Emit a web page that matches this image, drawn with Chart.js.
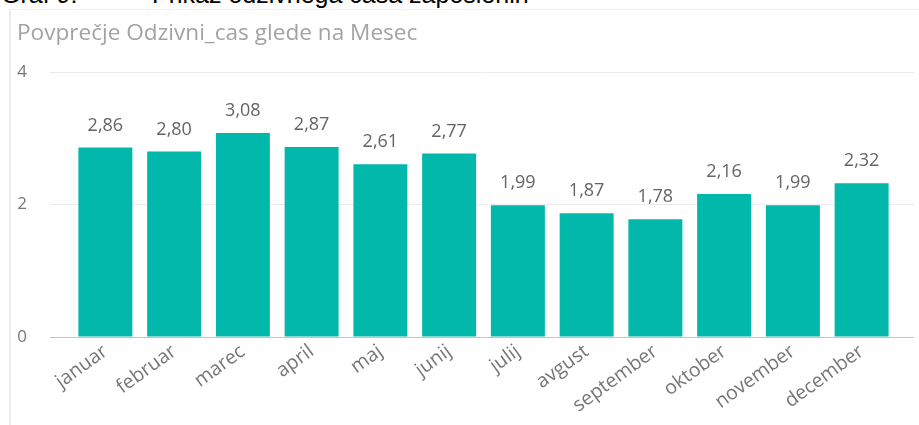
<!DOCTYPE html>
<html>
<head>
<meta charset="utf-8">
<script src="https://cdn.jsdelivr.net/npm/chart.js@4.4.0/dist/chart.umd.min.js"></script>
<style>
  html, body { margin: 0; padding: 0; background: #fff; }
  body { width: 919px; height: 425px; position: relative; overflow: hidden; }
  .caption { position: absolute; top: -18px; font: 25px "Liberation Sans", Arial, sans-serif; color: #000; line-height: 1; white-space: nowrap; }
  .frame { position: absolute; left: 9px; top: 9px; width: 908px; height: 430px;
           border-left: 2px solid #ececec; border-top: 1px solid #f2f2f2; }
  #wrap { position: absolute; left: 11px; top: 11px; width: 908px; height: 414px; }
</style>
</head>
<body>
<div class="caption" style="left:1px">Graf 9:</div>
<div class="caption" style="left:152px">Prikaz odzivnega časa zaposlenih</div>
<div class="frame"></div>
<div id="wrap"><canvas id="chart"></canvas></div>
<script>
// Povprečje Odzivni_cas po mesecih
const months = ['januar', 'februar', 'marec', 'april', 'maj', 'junij',
  'julij', 'avgust', 'september', 'oktober', 'november', 'december'];
const avgTime = [2.86, 2.80, 3.08, 2.87, 2.61, 2.77, 1.99, 1.87, 1.78, 2.16, 1.99, 2.32];
const yTicks = [0, 2, 4];

const FONT = '"Open Sans", "Noto Sans", sans-serif';

// value labels above bars (decimal comma)
const barLabels = {
  id: 'barLabels',
  afterDatasetsDraw(chart) {
    const ctx = chart.ctx;
    const meta = chart.getDatasetMeta(0);
    ctx.save();
    ctx.font = '18px ' + FONT;
    ctx.fillStyle = '#646464';
    ctx.textAlign = 'center';
    ctx.textBaseline = 'alphabetic';
    meta.data.forEach((bar, i) => {
      ctx.fillText(avgTime[i].toFixed(2).replace('.', ','), bar.x, bar.y - 17);
    });
    ctx.restore();
  }
};

const gridColor = c => (c.tick && c.tick.value === 0) ? '#c4c4c4' : '#ebebeb';

new Chart(document.getElementById('chart'), {
  type: 'bar',
  data: {
    labels: months,
    datasets: [{
      data: avgTime,
      backgroundColor: '#01B8AA',
      barPercentage: 0.785,
      categoryPercentage: 1
    }]
  },
  options: {
    responsive: true,
    maintainAspectRatio: false,
    animation: false,
    layout: { padding: { left: 6, right: 5, top: 0, bottom: 0 } },
    plugins: {
      legend: { display: false },
      tooltip: { enabled: false },
      title: {
        display: true,
        text: 'Povprečje Odzivni_cas glede na Mesec',
        align: 'start',
        color: '#a3a3a3',
        font: { family: FONT, size: 22.6, weight: 'normal', lineHeight: 1.2 },
        padding: { top: 9, bottom: 25 }
      }
    },
    scales: {
      x: {
        grid: { display: false },
        border: { display: false },
        ticks: {
          autoSkip: false,
          maxRotation: 36,
          minRotation: 36,
          padding: -5,
          color: '#767676',
          font: { family: FONT, size: 19.5 }
        },
        afterFit: s => { s.height = 88; s.paddingLeft = 0; s.paddingRight = 0; }
      },
      y: {
        min: 0,
        max: 4,
        afterBuildTicks: s => { s.ticks = yTicks.map(v => ({ value: v })); },
        border: { display: false },
        grid: { color: gridColor, tickLength: 21, tickColor: gridColor },
        ticks: { padding: 23, color: '#777777', font: { family: FONT, size: 17 } },
        afterFit: s => { s.width = 54; }
      },
      yRight: {
        position: 'right',
        min: 0,
        max: 4,
        afterBuildTicks: s => { s.ticks = yTicks.map(v => ({ value: v })); },
        border: { display: false },
        grid: { drawOnChartArea: false, tickLength: 18, color: gridColor, tickColor: gridColor },
        ticks: { display: false },
        afterFit: s => { s.width = 18; }
      }
    }
  },
  plugins: [barLabels]
});
</script>
</body>
</html>
